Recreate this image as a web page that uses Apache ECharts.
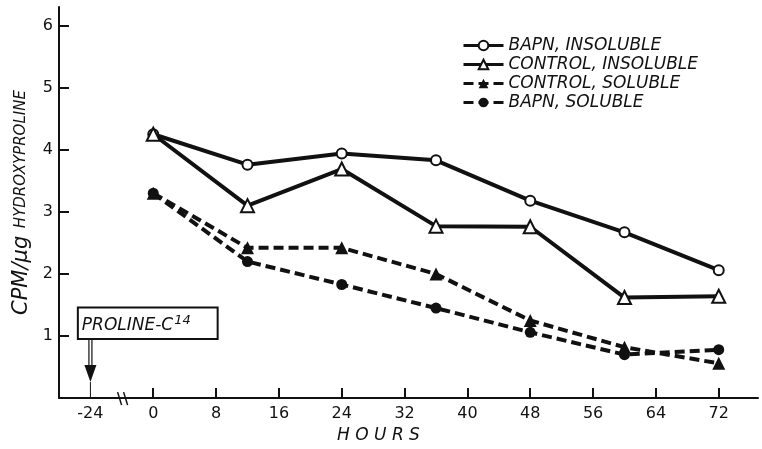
<!DOCTYPE html>
<html>
<head>
<meta charset="utf-8">
<script src="https://cdn.jsdelivr.net/npm/echarts@6/dist/echarts.min.js"></script>
<style>
  html, body { margin: 0; background: #fff; }
  #chart { width: 762px; height: 449px; }
</style>
</head>
<body>
<div id="chart"></div>
<script>
// hours after the start of the chase
const hours = [0, 12, 24, 36, 48, 60, 72];

// cpm / ug hydroxyproline
const bapnInsoluble = [4.25, 3.76, 3.94, 3.83, 3.18, 2.67, 2.06];
const controlInsoluble = [4.25, 3.10, 3.69, 2.77, 2.76, 1.62, 1.64];
const controlSoluble = [3.30, 2.42, 2.42, 2.00, 1.25, 0.82, 0.56];
const bapnSoluble = [3.30, 2.20, 1.83, 1.45, 1.06, 0.70, 0.78];

// x ticks; -24 h sits one tick left of 0, past the axis break
const xTicks = [-8, 0, 8, 16, 24, 32, 40, 48, 56, 64, 72];
const xTickLabels = ['-24', '0', '8', '16', '24', '32', '40', '48', '56', '64', '72'];
const yTicks = [1, 2, 3, 4, 5, 6];

const ink = '#111';
const font = 'DejaVu Sans';

function pairs(vals) {
  return hours.map((h, i) => [h, vals[i]]);
}

const chart = echarts.init(document.getElementById('chart'));

const solid = { color: ink, width: 4, type: 'solid' };
const dashed = { color: ink, width: 4, type: [10, 5] };

const option = {
  animation: false,
  backgroundColor: '#fff',
  textStyle: { fontFamily: font, color: ink },
  grid: { left: 59, right: 4, top: 7, bottom: 44 },
  legend: {
    orient: 'vertical',
    left: 457,
    top: 32,
    itemWidth: 40,
    itemHeight: 12,
    itemGap: 2,
    lineStyle: { width: 3 },
    textStyle: { fontFamily: font, fontStyle: 'italic', fontSize: 17, color: ink, lineHeight: 17 },
    data: ['BAPN, INSOLUBLE', 'CONTROL, INSOLUBLE', 'CONTROL, SOLUBLE', 'BAPN, SOLUBLE'],
  },
  xAxis: {
    type: 'value',
    min: -12,
    max: 77,
    name: 'H O U R S',
    nameLocation: 'middle',
    nameGap: 24,
    nameTextStyle: { fontFamily: font, fontStyle: 'italic', fontSize: 17, color: ink, padding: [0, 60, 0, 0] },
    axisLine: { show: true, onZero: false, lineStyle: { color: ink, width: 2 } },
    axisTick: { show: true, inside: true, length: 10, lineStyle: { color: ink, width: 2 }, customValues: xTicks.slice(1) },
    axisLabel: {
      customValues: xTicks,
      margin: 8,
      fontSize: 16,
      color: ink,
      formatter: v => xTickLabels[xTicks.indexOf(v)],
    },
    splitLine: { show: false },
  },
  yAxis: {
    type: 'value',
    min: 0,
    max: 6.3,
    name: '{big|CPM/µg}  {small|HYDROXYPROLINE}',
    nameLocation: 'middle',
    nameRotate: 90,
    nameGap: 20,
    nameTextStyle: {
      rich: {
        big: { fontFamily: font, fontStyle: 'italic', fontSize: 21, color: ink },
        small: { fontFamily: font, fontStyle: 'italic', fontSize: 15, color: ink },
      },
    },
    axisLine: { show: true, onZero: false, lineStyle: { color: ink, width: 2 } },
    axisTick: { show: true, inside: true, length: 10, lineStyle: { color: ink, width: 2 }, customValues: yTicks },
    axisLabel: { customValues: yTicks, margin: 6, fontSize: 16, color: ink },
    splitLine: { show: false },
  },
  series: [
    {
      name: 'BAPN, INSOLUBLE',
      type: 'line',
      data: pairs(bapnInsoluble),
      symbol: 'circle',
      symbolSize: 10,
      lineStyle: solid,
      itemStyle: { color: '#fff', borderColor: ink, borderWidth: 2 },
      z: 2,
    },
    {
      name: 'CONTROL, INSOLUBLE',
      type: 'line',
      data: pairs(controlInsoluble),
      symbol: 'triangle',
      symbolSize: 13,
      lineStyle: solid,
      itemStyle: { color: '#fff', borderColor: ink, borderWidth: 2 },
      z: 3,
    },
    {
      name: 'CONTROL, SOLUBLE',
      type: 'line',
      data: pairs(controlSoluble),
      symbol: 'triangle',
      symbolSize: 13,
      lineStyle: dashed,
      itemStyle: { color: ink },
      z: 3,
    },
    {
      name: 'BAPN, SOLUBLE',
      type: 'line',
      data: pairs(bapnSoluble),
      symbol: 'circle',
      symbolSize: 11,
      lineStyle: dashed,
      itemStyle: { color: ink },
      z: 2,
    },
  ],
};

chart.setOption(option);

// annotation: label box + arrow at -24 h, axis break marks
const px = p => chart.convertToPixel({ gridIndex: 0 }, p);
const boxTL = px([-9.6, 1.46]);
const boxBR = px([8.2, 0.95]);
const arrowTop = px([-8, 0.95]);
const arrowBase = px([-8, 0]);
const brk = px([-3.9, 0]);

chart.setOption({
  graphic: [
    {
      type: 'rect',
      shape: { x: boxTL[0], y: boxTL[1], width: boxBR[0] - boxTL[0], height: boxBR[1] - boxTL[1] },
      style: { fill: '#fff', stroke: ink, lineWidth: 2 },
    },
    {
      type: 'text',
      x: boxTL[0] + 4,
      y: (boxTL[1] + boxBR[1]) / 2 + 2,
      style: {
        text: '{t|PROLINE-C}{s|14}',
        verticalAlign: 'middle',
        rich: {
          t: { fontFamily: font, fontStyle: 'italic', fontSize: 17, fill: ink },
          s: { fontFamily: font, fontStyle: 'italic', fontSize: 13, fill: ink, verticalAlign: 'top', padding: [0, 0, 10, 1] },
        },
      },
    },
    {
      type: 'line',
      shape: { x1: arrowTop[0] - 1.5, y1: arrowTop[1], x2: arrowTop[0] - 1.5, y2: arrowBase[1] - 30 },
      style: { stroke: ink, lineWidth: 1.2 },
    },
    {
      type: 'line',
      shape: { x1: arrowTop[0] + 1.5, y1: arrowTop[1], x2: arrowTop[0] + 1.5, y2: arrowBase[1] - 30 },
      style: { stroke: ink, lineWidth: 1.2 },
    },
    {
      type: 'polygon',
      shape: { points: [[arrowTop[0] - 6, arrowBase[1] - 33], [arrowTop[0] + 6, arrowBase[1] - 33], [arrowTop[0], arrowBase[1] - 16]] },
      style: { fill: ink },
    },
    {
      type: 'line',
      shape: { x1: arrowTop[0], y1: arrowBase[1] - 16, x2: arrowTop[0], y2: arrowBase[1] },
      style: { stroke: ink, lineWidth: 1 },
    },
    {
      type: 'line',
      shape: { x1: brk[0] - 5, y1: brk[1] - 6, x2: brk[0] - 1, y2: brk[1] + 7 },
      style: { stroke: ink, lineWidth: 1.5 },
    },
    {
      type: 'line',
      shape: { x1: brk[0] + 1, y1: brk[1] - 6, x2: brk[0] + 5, y2: brk[1] + 7 },
      style: { stroke: ink, lineWidth: 1.5 },
    },
  ],
});
</script>
</body>
</html>
